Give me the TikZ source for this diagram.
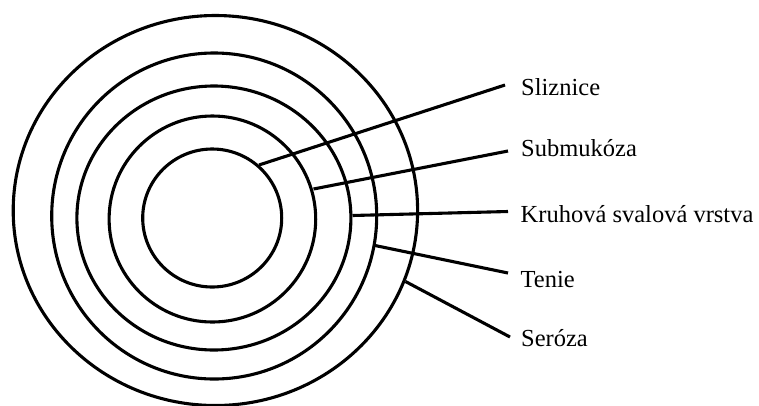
\documentclass[tikz,border=0pt]{standalone}
\usepackage{fontspec}
\setmainfont{Liberation Serif}
\begin{document}
\begin{tikzpicture}[x=1pt,y=-1pt,
  ring/.style={line width=3.1pt},
  leader/.style={line width=3.1pt},
  lbl/.style={anchor=base west, inner sep=0pt, font=\fontsize{24.5}{29}\selectfont}]
\useasboundingbox (0,0) rectangle (759,405);
% ring centres
\coordinate (c1) at (212.2,218);
\coordinate (c2) at (212.4,219);
\coordinate (c3) at (213.9,218);
\coordinate (c4) at (214.2,216);
\coordinate (c5) at (215.4,210.5);
% rings
\draw[ring] (c1) ellipse [x radius=69.5, y radius=69];
\draw[ring] (c2) ellipse [x radius=103.3, y radius=103];
\draw[ring] (c3) ellipse [x radius=137, y radius=132];
\draw[ring] (c4) ellipse [x radius=162.5, y radius=163];
\draw[ring] (c5) ellipse [x radius=202.2, y radius=195];
% labels
\node[lbl] (sliz) at (521,95) {Sliznice};
\node[lbl] (subm) at (521,156.5) {Submukóza};
\node[lbl] (kruh) at (520.5,222) {Kruhová svalová vrstva};
\node[lbl] (tenie) at (520.5,287.5) {Tenie};
\node[lbl] (seroza) at (521,346.5) {Seróza};
% leader start points (on rings) and end points (at labels)
\coordinate (p1) at (259,165);
\coordinate (e1) at (505,85);
\coordinate (p2) at (313.5,189);
\coordinate (e2) at (508,151);
\coordinate (p3) at (352.5,215.5);
\coordinate (e3) at (508,211.5);
\coordinate (p4) at (375,245.5);
\coordinate (e4) at (508,273);
\coordinate (p5) at (405.5,281.5);
\coordinate (e5) at (510,337);
\draw[leader] (p1) -- (e1);
\draw[leader] (p2) -- (e2);
\draw[leader] (p3) -- (e3);
\draw[leader] (p4) -- (e4);
\draw[leader] (p5) -- (e5);
\end{tikzpicture}
\end{document}
